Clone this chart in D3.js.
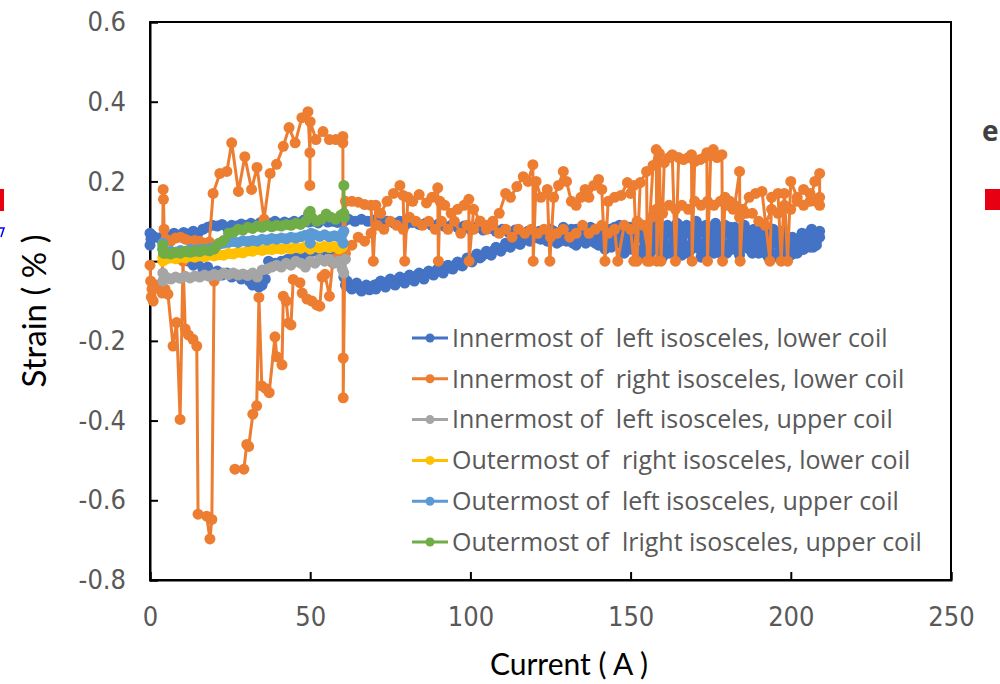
<!DOCTYPE html>
<html>
<head>
<meta charset="utf-8">
<script src="https://cdn.jsdelivr.net/npm/d3@7"></script>
<style>
  body { margin: 0; background: #fff; }
  svg { display: block; }
</style>
</head>
<body>
<div id="container"></div>
<script>
// Tick labels.
const xTicks = [0, 50, 100, 150, 200, 250];
const yTicks = [0.6, 0.4, 0.2, 0, -0.2, -0.4, -0.6, -0.8];
const yTickLabels = ['0.6', '0.4', '0.2', '0', '-0.2', '-0.4', '-0.6', '-0.8'];

const seriesNames = [
    'Innermost of  left isosceles, lower coil',
    'Innermost of  right isosceles, lower coil',
    'Innermost of  left isosceles, upper coil',
    'Outermost of  right isosceles, lower coil',
    'Outermost of  left isosceles, upper coil',
    'Outermost of  lright isosceles, upper coil'
];
const seriesColors = ['#4472C4', '#ED7D31', '#A5A5A5', '#FFC000', '#5B9BD5', '#70AD47'];

// [current (A), strain (%)] pairs, null = gap.
const innerLeftLower = [
    [0,0.04],[0,0.07],[0.3,0.055],[0.6,0.065],[1.5,0.06],[3,0.058],[4.5,0.065],[6,0.06],[7.5,0.07],[9,0.065],
    [10.5,0.072],[12,0.068],[13.5,0.075],[15,0.07],[16.5,0.08],[18,0.085],[19.5,0.09],[21,0.088],[22.5,0.092],[24,0.085],
    [25.5,0.09],[27,0.088],[28.5,0.093],[30,0.09],[31.5,0.095],[33,0.09],[34.5,0.097],[36,0.092],[37.5,0.095],[39,0.1],
    [40.5,0.093],[42,0.098],[43.5,0.095],[45,0.1],[46.5,0.096],[48,0.103],[49.5,0.098],[51,0.1],[52.5,0.096],[54,0.104],
    [55.5,0.098],[57,0.1],[58.5,0.097],[60,0.102],
    [60.5,-0.04],[61,-0.06],[62.5,-0.065],[64,-0.06],[65.5,-0.07],[67,-0.065],[68.5,-0.072],[70,-0.06],[71.5,-0.055],[73,-0.06],
    [74.5,-0.05],[76,-0.055],[77.5,-0.045],[79,-0.05],[80.5,-0.04],[82,-0.045],[83.5,-0.035],[85,-0.04],[86.5,-0.03],[88,-0.032],
    [89.5,-0.022],[91,-0.026],[92.5,-0.015],[94,-0.018],[95.5,-0.008],[97,-0.01],[98.5,0.0],[100,0.004],[101.5,0.01],[103,0.008],
    [104.5,0.018],[106,0.02],[107.5,0.028],[109,0.03],[110.5,0.036],[112,0.04],[113.5,0.045],[115,0.048],[116.5,0.052],[118,0.055],
    [119.5,0.06],[121,0.058],
    [122.5,0.065],[124,0.05],[125.5,0.07],[127,0.045],[128.5,0.075],[130,0.05],[131.5,0.08],[133,0.04],[134.5,0.07],[136,0.055],
    [137.5,0.085],[139,0.045],[140.5,0.075],[142,0.03],[143.5,0.08],[145,0.05],[146.5,0.09],[148,0.02],[149.5,0.085],[151,0.04],
    [152.5,0.095],[154,0.015],[155.5,0.09],[157,0.03],[158.5,0.095],[160,0.01],[161.5,0.09],[163,0.025],[164.5,0.095],[166,0.015],
    [167.5,0.09],[169,0.03],[170.5,0.1],[172,0.01],[173.5,0.09],[175,0.025],[176.5,0.095],[178,0.02],[179.5,0.09],[181,0.03],
    [182.5,0.085],[184,0.015],[185.5,0.09],[187,0.03],[188.5,0.08],[190,0.02],[191.5,0.085],[193,0.01],[194.5,0.08],[196,0.02],
    [197.5,0.075],[199,0.005],[200.5,0.06],[202,0.03],[203.5,0.07],[205,0.04],[206.5,0.08],[208,0.05],[209,0.075],
    [208.5,0.06],[207,0.035],[205.5,0.07],[204,0.03],[202.5,0.055],[201,0.02],[199.5,0.045],[198,0.065],[196.5,0.035],[195,0.07],
    [193.5,0.04],[192,0.075],[190.5,0.045],[189,0.07],[187.5,0.05],[186,0.075],[184.5,0.04],[183,0.07],[181.5,0.05],[180,0.08],
    [178.5,0.045],[177,0.075],[175.5,0.05],[174,0.08],[172.5,0.04],[171,0.07],[169.5,0.05],[168,0.075],[166.5,0.04],[165,0.07],
    [163.5,0.05],[162,0.08],[160.5,0.04],[159,0.07],[157.5,0.055],[156,0.075],[154.5,0.04],[153,0.07],[151.5,0.06],[150,0.075],
    [148.5,0.05],[147,0.07],[145.5,0.06],[144,0.075],[142.5,0.055],[141,0.07],[139.5,0.06],[138,0.075],[136.5,0.06],[135,0.07],
    [133.5,0.065],[132,0.075],[130.5,0.06],[129,0.07],[127.5,0.065],[126,0.075],[124.5,0.065],[123,0.07],[121.5,0.075],[120,0.07],
    [118,0.075],[116,0.07],[114,0.078],[112,0.072],[110,0.08],[108,0.075],[106,0.082],[104,0.078],[102,0.085],[100,0.08],
    [98,0.088],[96,0.085],[94,0.09],[92,0.087],[90,0.093],[88,0.09],[86,0.095],[84,0.092],[82,0.097],[80,0.093],
    [78,0.1],[76,0.096],[74,0.1],[72,0.097],[70,0.103],[68,0.1],[66,0.105],[64,0.1],[62,0.105],[60.5,0.1],
    [59,0.03],[57,0.025],[55,0.03],[53,0.02],[51,0.025],[49,0.015],[47,0.02],[45,0.01],[43,0.005],[41,0.0],
    [39,-0.005],[37,0.0],[36,-0.045],[35,-0.06],[34,-0.065],[33,-0.055],[32,-0.06],[31,-0.05],[30,-0.04],[28.5,-0.045],
    [27,-0.035],[25.5,-0.04],[24,-0.03],[22.5,-0.035],[21,-0.025],[19.5,-0.03],[18,-0.015],[16.5,-0.02],[15,-0.005],[13.5,-0.01],
    [12,0.0],[10.5,0.005],[9,0.01],[7.5,0.015],[6,0.02],[4.5,0.025],
    null,
    [61.5,-0.05],[63,-0.07],[64.5,-0.055],[66,-0.075],[67.5,-0.06],[69,-0.068],[70.5,-0.07],[72,-0.05],[73.5,-0.065],[75,-0.045],
    [76.5,-0.06],[78,-0.04],[79.5,-0.055],[81,-0.035],[82.5,-0.05],[84,-0.03],[85.5,-0.045],[87,-0.025],[88.5,-0.035],[90,-0.018],
    [91.5,-0.03],[93,-0.01],[94.5,-0.02],[96,-0.002],[97.5,-0.012],[99,0.008],[100.5,-0.002],[102,0.018],[103.5,0.012],[105,0.025],
    [106.5,0.015],[108,0.035],[109.5,0.025],[111,0.045],[112.5,0.035],[114,0.052],[115.5,0.042],[117,0.06],[118.5,0.05],[120,0.062],
    [121,0.065],[122,0.055],[123,0.075],[124,0.06],[125,0.08],[126,0.055],[127,0.07],[128,0.05],[129,0.085],[130,0.06],
    [131,0.075],[132,0.045],[133,0.08],[134,0.06],[135,0.085],[136,0.045],[137,0.07],[138,0.05],[139,0.08],[140,0.04],
    [141,0.085],[142,0.05],[143,0.07],[144,0.035],[145,0.085],[146,0.045],[147,0.08],[148,0.035],[149,0.07],[150,0.03],
    [151,0.085],[152,0.025],[153,0.08],[154,0.03],[155,0.07],[156,0.02],[157,0.085],[158,0.03],[159,0.08],[160,0.025],
    [161,0.07],[162,0.02],[163,0.08],[164,0.035],[165,0.09],[166,0.03],[167,0.07],[168,0.02],[169,0.085],[170,0.035],
    [171,0.09],[172,0.025],[173,0.075],[174,0.03],[175,0.085],[176,0.02],[177,0.08],[178,0.035],[179,0.07],[180,0.02],
    [181,0.085],[182,0.03],[183,0.075],[184,0.025],[185,0.08],[186,0.035],[187,0.065],[188,0.02],[189,0.08],[190,0.03],
    [191,0.07],[192,0.02],[193,0.06],[194,0.015],[195,0.065],[196,0.01],[197,0.055],[198,0.02],[199,0.06],[200,0.015],
    [201,0.05],[202,0.02],[203,0.055],[204,0.03],[205,0.06],[206,0.035],[207,0.07],[208,0.04],[209,0.06]
];

const innerRightLower = [
    [0,-0.01],[0.2,-0.05],[0.4,-0.09],[0.6,-0.07],[1,-0.1],[2,-0.06],[3,-0.07],[3.8,-0.08],[4.1,0.18],[4.2,0.155],
    [4.4,0.08],[5,0.055],[6.5,0.05],[8,0.058],[9.5,0.06],[11,0.055],[12.5,0.05],[14,0.052],[15.5,0.05],[17,0.045],
    [18.5,0.048],[19.7,0.17],[21.8,0.22],[24,0.225],[25.5,0.297],[27.6,0.175],[29.6,0.262],[31.7,0.18],[33.4,0.235],[35.6,0.105],
    [37.5,0.22],[39.5,0.243],[41.6,0.288],[43.4,0.335],[45.3,0.297],[47.4,0.36],[49.3,0.375],[49.9,0.272],[49.9,0.19],[50,0.35],
    [51.8,0.305],[54,0.325],[56,0.305],[58,0.305],[60.2,0.313],[60.2,0.297],[60.3,-0.243],[60.3,-0.343],
    [61,0.15],[63,0.15],[65,0.148],[67,0.142],[69,0.14],[69.7,0.0],[70.5,0.14],[72,0.12],[74,0.15],[76,0.17],
    [78,0.19],[79,0.165],[79.5,0.0],[80.5,0.16],[82,0.15],[84,0.167],[86.3,0.146],[88,0.16],[89.8,0.184],[90,0.0],
    [90.5,0.15],[92,0.14],[94,0.12],[96,0.13],[98,0.14],[99.5,0.155],[99.6,0.0],[101,0.13],[103,0.1],[105,0.09],
    [107,0.1],[109,0.12],[111,0.17],[112.5,0.16],[114.5,0.187],[116.5,0.212],[118,0.2],[119.5,0.242],[119.6,0.0],[120.5,0.2],
    [122,0.16],[124,0.18],[124.8,0.0],[126,0.16],[127.5,0.19],[129,0.225],[130,0.2],[131.5,0.15],[133,0.14],[134.5,0.16],
    [135.8,0.18],[137,0.16],[138.5,0.19],[140,0.205],[141,0.18],[142,0.0],[143,0.15],[145,0.16],[147,0.165],[149,0.197],
    [150,0.17],[151,0.19],[152,0.0],[153,0.197],[155,0.225],[155.2,0.0],[157,0.24],[158,0.28],[158.2,0.0],[159,0.27],
    [159.5,0.0],[160.5,0.247],[162,0.26],[163,0.267],[164,0.0],[165,0.26],[166.5,0.255],[168,0.26],[169,0.267],[169.2,0.0],
    [170,0.25],[171.7,0.255],[173,0.26],[173.8,0.272],[174,0.0],[175,0.265],[175.8,0.28],[177,0.26],[178.5,0.267],[178.7,0.0],
    [179.5,0.16],[181,0.15],[182.5,0.14],[184,0.225],[184.2,0.0],[185,0.13],[187,0.16],[189,0.17],[191,0.175],[193.5,0.0],
    [194,0.16],[196,0.17],[197,0.0],[198,0.17],[199,0.0],[200,0.2],[202,0.16],[204,0.18],[206,0.15],[207.5,0.2],
    [209,0.22],[209,0.14],
    [209,0.16],[208,0.15],[206,0.17],[204,0.14],[202,0.15],[200,0.13],[198,0.14],[196,0.12],[194,0.13],[192,0.09],
    [190,0.1],[188,0.12],[186,0.12],[184,0.11],[182,0.13],[180,0.14],[178,0.15],[176,0.14],[174,0.15],[172,0.14],
    [170,0.15],[168,0.13],[166,0.14],[164,0.13],[162,0.14],[160,0.12],[158,0.13],[156.5,0.11],[156,0.0],[154,0.09],
    [152,0.1],[151,0.0],[150,0.08],[148,0.09],[146,0.0],[145,0.08],[143,0.07],[141,0.09],[139,0.08],[137,0.07],
    [135,0.09],[133,0.07],[131,0.06],[129,0.08],[127,0.07],[125,0.06],[123,0.08],[121,0.07],[119,0.08],[117,0.07],
    [115,0.08],[113,0.06],[111,0.08],[109,0.07],[107,0.09],[105,0.08],[103,0.1],[101,0.08],[99,0.09],[97,0.07],
    [95,0.1],[93,0.08],[91,0.1],[89,0.08],[87,0.1],[85,0.09],[83,0.1],[81,0.11],[79,0.08],[77,0.09],
    [75,0.1],[73,0.08],[71,0.09],[69,0.07],[67,0.05],[65,0.06],[63,0.04],[61,0.02],[60,0.0],[58.5,0.01],
    [57,-0.004],[56,-0.088],[54.6,-0.033],[53.7,-0.04],[53,-0.113],[52,-0.11],[50.5,-0.1],[49,-0.095],[47.5,-0.08],[46.8,-0.054],
    [44.7,-0.046],[44,-0.16],[43.2,-0.155],[42.5,-0.1],[41.6,-0.088],[41.2,-0.26],[39.6,-0.24],[39,-0.19],[37.2,-0.33],[36.2,-0.32],
    [34.9,-0.313],[34,-0.091],[33.3,-0.363],[32.1,-0.384],[30.8,-0.465],[30.2,-0.46],[29.3,-0.522],[26.5,-0.522],
    null,
    [4.7,-0.07],[5.6,-0.083],[7.2,-0.213],[8.3,-0.154],[9.4,-0.397],[10.3,0.0],[11,-0.17],[12,-0.185],[13.4,-0.196],[14.6,-0.213],
    [15,-0.635],[17.7,-0.64],[18.7,-0.697],[19.3,-0.648],[20,-0.05]
];

const innerLeftUpper = [
    [4,-0.05],[4,-0.03],[5,-0.04],[6.5,-0.045],[8,-0.04],[9.5,-0.043],[11,-0.038],[12.5,-0.042],[14,-0.037],[15.5,-0.04],
    [17,-0.035],[18.5,-0.038],[20,-0.033],[21.5,-0.036],[23,-0.03],[24.5,-0.034],[26,-0.03],[27.5,-0.035],[29,-0.032],[30.5,-0.036],
    [32,-0.03],[33.5,-0.04],[35,-0.022],[36.5,-0.02],[38,-0.015],[39.5,-0.01],[41,-0.015],[42.5,-0.005],[44,-0.01],[45.5,0.0],
    [47,-0.005],[48.5,-0.015],[50,0.0],[51.5,-0.005],[53,0.005],[54.5,0.0],[56,0.005],[57.5,-0.005],[59,0.0],[60,-0.02],
    [60.5,-0.03],[61,0.005]
];

const outerRightLower = [
    [4,0.0],[4,0.01],[5,0.005],[6.5,0.008],[8,0.006],[9.5,0.01],[11,0.008],[12.5,0.012],[14,0.01],[15.5,0.013],
    [17,0.011],[18.5,0.015],[20,0.013],[21.5,0.016],[23,0.015],[24.5,0.019],[26,0.018],[27.5,0.022],[29,0.021],[30.5,0.026],
    [32,0.025],[33.5,0.029],[35,0.027],[36.5,0.03],[38,0.029],[39.5,0.032],[41,0.03],[42.5,0.033],[44,0.031],[45.5,0.034],
    [47,0.032],[48.5,0.036],[50,0.03],[51.5,0.036],[53,0.033],[54.5,0.037],[56,0.034],[57.5,0.036],[59,0.031],[60,0.035]
];

const outerLeftUpper = [
    [4,0.03],[4,0.045],[5,0.022],[6.5,0.025],[8,0.022],[9.5,0.027],[11,0.025],[12.5,0.029],[14,0.027],[15.5,0.03],
    [17,0.029],[18.5,0.032],[20,0.033],[21.5,0.042],[23,0.045],[24.5,0.047],[26,0.049],[27.5,0.047],[29,0.051],[30.5,0.049],
    [32,0.052],[33.5,0.05],[35,0.055],[36.5,0.053],[38,0.057],[39.5,0.055],[41,0.058],[42.5,0.056],[44,0.06],[45.5,0.058],
    [47,0.061],[48.5,0.065],[50,0.045],[50.3,0.07],[51.5,0.066],[53,0.062],[54.5,0.066],[56,0.061],[57.5,0.064],[59,0.06],
    [60,0.068],[60.3,0.045],[60.5,0.075]
];

const outerRightUpper = [
    [4,0.04],[4,0.03],[4.2,0.02],[5,0.02],[6.5,0.018],[8,0.022],[9.5,0.02],[11,0.024],[12.5,0.022],[14,0.025],
    [15.5,0.024],[17,0.028],[18.5,0.026],[20,0.03],[21.5,0.045],[23,0.052],[24.5,0.07],[26,0.072],[27.5,0.08],[29,0.078],
    [30.5,0.085],[32,0.082],[33.5,0.088],[35,0.085],[36.5,0.09],[38,0.086],[39.5,0.09],[41,0.088],[42.5,0.092],[44,0.09],
    [45.5,0.095],[47,0.092],[48.5,0.1],[49.5,0.12],[50,0.125],[50.5,0.11],[52,0.1],[53.5,0.105],[55,0.118],[56.5,0.11],
    [58,0.105],[59.5,0.115],[60.5,0.12],[60.5,0.19],[60.7,0.11]
];

const allSeries = [innerLeftLower, innerRightLower, innerLeftUpper, outerRightLower, outerLeftUpper, outerRightUpper];

window.addEventListener('DOMContentLoaded', (event) => {

    const svg = d3.select('#container')
        .append('svg')
        .attr('width', 1000)
        .attr('height', 684);

    const x = d3.scaleLinear().domain([0, 250]).range([150, 951]);
    const y = d3.scaleLinear().domain([-0.8, 0.6]).range([580, 22]);

    // Plot frame.
    svg.append('rect')
        .attr('x', x(0))
        .attr('y', y(0.6))
        .attr('width', x(250) - x(0))
        .attr('height', y(-0.8) - y(0.6))
        .attr('fill', 'none')
        .attr('stroke', '#000')
        .attr('stroke-width', 2);

    // Axes, ticks inside.
    const xAxis = svg.append('g')
        .attr('transform', `translate(0,${y(-0.8)})`)
        .call(d3.axisBottom(x).tickValues(xTicks).tickSize(-8).tickPadding(27).tickFormat(d3.format('d')));

    const yAxis = svg.append('g')
        .attr('transform', `translate(${x(0)},0)`)
        .call(d3.axisLeft(y).tickValues(yTicks).tickSize(-8).tickPadding(24)
            .tickFormat((d, i) => yTickLabels[i]));

    [xAxis, yAxis].forEach(g => {
        g.select('.domain').attr('stroke', '#000').attr('stroke-width', 2);
        g.selectAll('.tick line').attr('stroke', '#000').attr('stroke-width', 2);
        g.selectAll('.tick text')
            .attr('fill', '#595959')
            .style('font-family', '"Liberation Sans Narrow", "DejaVu Sans Condensed", sans-serif')
            .style('font-size', '27px');
    });

    // Series lines and markers.
    const line = d3.line()
        .defined(d => d !== null)
        .x(d => x(d[0]))
        .y(d => y(d[1]));

    allSeries.forEach((data, i) => {
        const g = svg.append('g');
        g.append('path')
            .datum(data)
            .attr('d', line)
            .attr('fill', 'none')
            .attr('stroke', seriesColors[i])
            .attr('stroke-width', 3)
            .attr('stroke-linejoin', 'round');
        g.selectAll('circle')
            .data(data.filter(d => d !== null))
            .enter()
            .append('circle')
            .attr('cx', d => x(d[0]))
            .attr('cy', d => y(d[1]))
            .attr('r', 5.5)
            .attr('fill', seriesColors[i]);
    });

    // Legend.
    const legend = svg.append('g');
    seriesNames.forEach((name, i) => {
        const ly = 338 + i * 40.8;
        legend.append('line')
            .attr('x1', 412).attr('x2', 448)
            .attr('y1', ly).attr('y2', ly)
            .attr('stroke', seriesColors[i])
            .attr('stroke-width', 3);
        legend.append('circle')
            .attr('cx', 430).attr('cy', ly).attr('r', 4.5)
            .attr('fill', seriesColors[i]);
        legend.append('text')
            .attr('x', 452).attr('y', ly)
            .attr('dy', '0.35em')
            .attr('fill', '#595959')
            .style('font-family', '"Open Sans", sans-serif')
            .style('font-size', '25px')
            .style('white-space', 'pre')
            .text(name);
    });

    // Axis titles.
    svg.append('text')
        .attr('x', 569)
        .attr('y', 675)
        .attr('text-anchor', 'middle')
        .attr('fill', '#000')
        .style('font-family', 'Lato, sans-serif')
        .style('font-size', '30px')
        .style('white-space', 'pre')
        .text('Current ( A )');

    svg.append('text')
        .attr('transform', 'translate(46,311) rotate(-90)')
        .attr('text-anchor', 'middle')
        .attr('fill', '#000')
        .style('font-family', 'Lato, sans-serif')
        .style('font-size', '33px')
        .style('white-space', 'pre')
        .text('Strain ( % )');

    // Edge fragments cut off in the source image.
    svg.append('text')
        .attr('x', 982).attr('y', 141)
        .attr('fill', '#404040')
        .style('font-family', '"Open Sans", sans-serif')
        .style('font-weight', 'bold')
        .style('font-size', '28px')
        .text('e');
    svg.append('rect').attr('x', 985).attr('y', 189).attr('width', 15).attr('height', 21).attr('fill', '#E60012');
    svg.append('rect').attr('x', 0).attr('y', 189).attr('width', 4).attr('height', 22).attr('fill', '#E60012');
    svg.append('path')
        .attr('d', 'M0,228 L4,228 L1,237')
        .attr('fill', 'none')
        .attr('stroke', '#0000ff')
        .attr('stroke-width', 1.5);

}); // end of document ready
</script>
</body>
</html>
